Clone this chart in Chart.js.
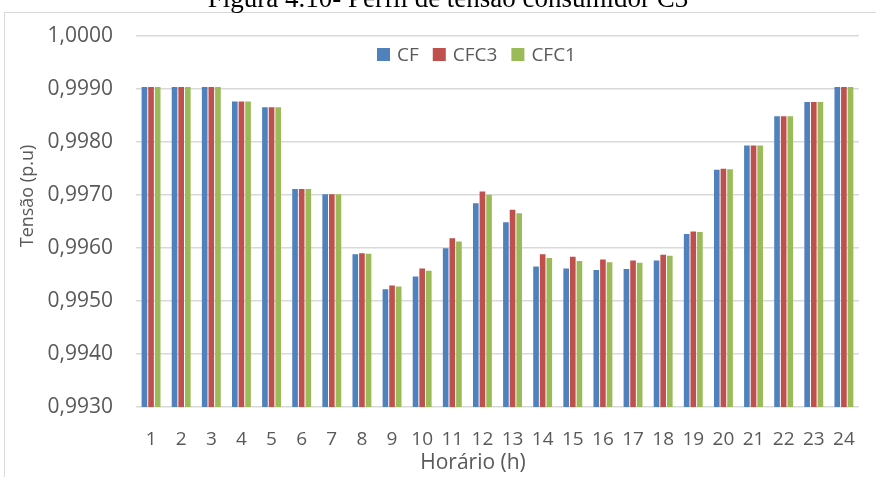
<!DOCTYPE html>
<html lang="pt">
<head>
<meta charset="utf-8">
<title>Perfil de tensão consumidor C3</title>
<script src="https://cdn.jsdelivr.net/npm/chart.js@4/dist/chart.umd.min.js"></script>
<style>
  html, body { margin: 0; padding: 0; background: #ffffff; }
  #wrap { position: relative; width: 876px; height: 477px; overflow: hidden; }
  canvas { display: block; }
</style>
</head>
<body>
<div id="wrap"><canvas id="chart" width="876" height="477"></canvas></div>
<script>
// Hourly voltage (p.u) at consumer C3 for three configurations
const hours = ['1','2','3','4','5','6','7','8','9','10','11','12',
               '13','14','15','16','17','18','19','20','21','22','23','24'];

const cf = [0.99903, 0.99903, 0.99903, 0.99876, 0.99865, 0.99711, 0.99701, 0.99588,
            0.99522, 0.99546, 0.99599, 0.99684, 0.99648, 0.99565, 0.99561, 0.99558,
            0.99560, 0.99576, 0.99626, 0.99747, 0.99793, 0.99848, 0.99875, 0.99903];

const cfc3 = [0.99903, 0.99903, 0.99903, 0.99876, 0.99865, 0.99711, 0.99701, 0.99590,
              0.99529, 0.99561, 0.99618, 0.99706, 0.99672, 0.99588, 0.99583, 0.99578,
              0.99576, 0.99587, 0.99631, 0.99749, 0.99793, 0.99848, 0.99875, 0.99903];

const cfc1 = [0.99903, 0.99903, 0.99903, 0.99876, 0.99865, 0.99711, 0.99701, 0.99589,
              0.99527, 0.99557, 0.99612, 0.99700, 0.99665, 0.99581, 0.99575, 0.99573,
              0.99572, 0.99585, 0.99630, 0.99748, 0.99793, 0.99848, 0.99875, 0.99903];

const yTicks = [0.993, 0.994, 0.995, 0.996, 0.997, 0.998, 0.999, 1.000];

const seriesNames = ['CF', 'CFC3', 'CFC1'];
const seriesColors = ['#4f81bd', '#c0504d', '#9bbb59'];

const textGray = '#595959';
const gridGray = '#d9d9d9';
const sans = "'Open Sans', 'Liberation Sans', sans-serif";

// Frame, caption, axis titles and the legend drawn over the canvas
const decorations = {
  id: 'decorations',
  beforeDraw(chart) {
    const ctx = chart.ctx;
    ctx.save();
    ctx.fillStyle = '#ffffff';
    ctx.fillRect(0, 0, chart.width, chart.height);
    ctx.strokeStyle = gridGray;
    ctx.lineWidth = 1;
    ctx.strokeRect(4.5, 12.5, chart.width + 20, chart.height + 20);
    ctx.restore();
  },
  afterDraw(chart) {
    const ctx = chart.ctx;
    ctx.save();

    // caption above the frame
    ctx.fillStyle = '#000000';
    ctx.font = "27px 'Liberation Serif', 'Times New Roman', serif";
    ctx.textAlign = 'center';
    ctx.textBaseline = 'alphabetic';
    ctx.fillText('Figura 4.10- Perfil de tensão consumidor C3', 448, 7);

    // axis titles
    ctx.fillStyle = textGray;
    ctx.font = '21px ' + sans;
    ctx.textAlign = 'center';
    ctx.textBaseline = 'alphabetic';
    ctx.fillText('Horário (h)', 473, 469);

    ctx.save();
    ctx.translate(33, 196);
    ctx.rotate(-Math.PI / 2);
    ctx.font = '18px ' + sans;
    ctx.fillText('Tensão (p.u)', 0, 0);
    ctx.restore();

    // legend
    ctx.font = '19px ' + sans;
    ctx.textAlign = 'left';
    ctx.textBaseline = 'middle';
    let x = 377;
    const yMid = 55;
    chart.data.datasets.forEach((ds) => {
      ctx.fillStyle = ds.backgroundColor;
      ctx.fillRect(x, yMid - 7, 13, 13);
      x += 20;
      ctx.fillStyle = textGray;
      ctx.fillText(ds.label, x, yMid + 1);
      x += ctx.measureText(ds.label).width + 14;
    });

    ctx.restore();
  }
};

const fmt = (v) => (Math.round(v * 10000) / 10000).toFixed(4).replace('.', ',');

new Chart(document.getElementById('chart'), {
  type: 'bar',
  data: {
    labels: hours,
    datasets: [cf, cfc3, cfc1].map((values, i) => ({
      label: seriesNames[i],
      data: values,
      backgroundColor: seriesColors[i],
      borderWidth: 0,
      barPercentage: 0.85,
      categoryPercentage: 0.66
    }))
  },
  options: {
    responsive: false,
    devicePixelRatio: 1,
    animation: false,
    layout: { padding: { top: 29, right: 11, left: 0, bottom: 0 } },
    plugins: {
      legend: { display: false },
      title: { display: false },
      tooltip: { enabled: false }
    },
    scales: {
      x: {
        grid: { display: false, drawTicks: false },
        border: { display: false },
        ticks: {
          color: textGray,
          font: { family: sans, size: 19 },
          padding: 21,
          maxRotation: 0,
          autoSkip: false
        },
        afterFit(scale) { scale.height = 70; }
      },
      y: {
        min: 0.993,
        max: 1.0,
        grid: { color: gridGray, lineWidth: 1.5, drawTicks: false },
        border: { display: false },
        ticks: {
          color: textGray,
          font: { family: sans, size: 21 },
          padding: 23,
          callback: (v) => fmt(v)
        },
        afterBuildTicks(scale) {
          scale.ticks = yTicks.map((v) => ({ value: v }));
        },
        afterFit(scale) { scale.width = 136; }
      }
    }
  },
  plugins: [decorations]
});
</script>
</body>
</html>
